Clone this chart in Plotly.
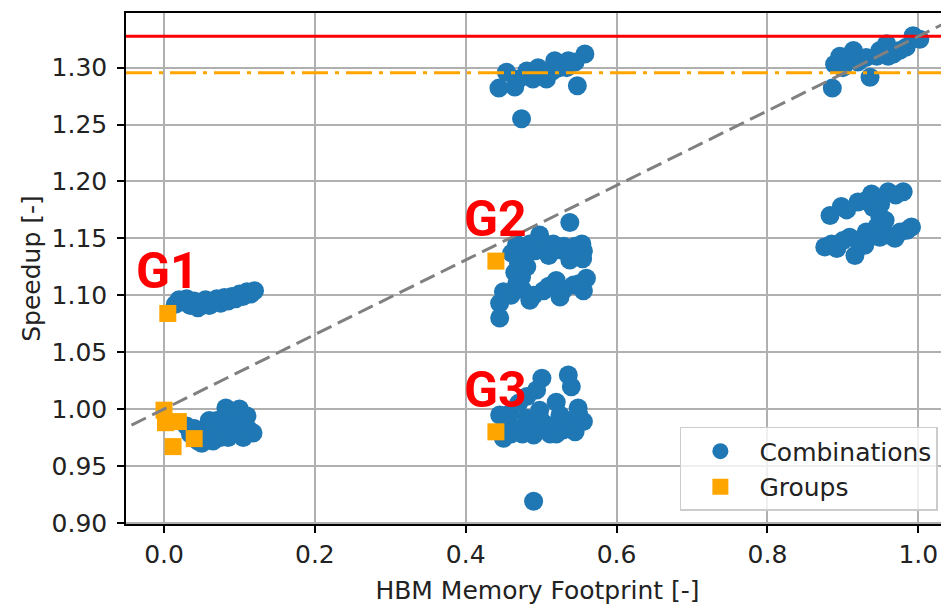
import plotly.graph_objects as go

# ---- data ----
comb_x = [
    # G1 upper band
    0.015, 0.02, 0.025, 0.03, 0.035, 0.04, 0.045, 0.05, 0.055, 0.06, 0.065,
    0.07, 0.075, 0.08, 0.085, 0.09, 0.095, 0.10, 0.105, 0.11, 0.115, 0.12,
    # lower-left cluster
    0.03, 0.035, 0.045, 0.05, 0.055, 0.06, 0.065, 0.07, 0.075, 0.08, 0.082,
    0.085, 0.09, 0.095, 0.10, 0.10, 0.105, 0.11, 0.112, 0.118, 0.07, 0.06,
    0.04, 0.05, 0.065, 0.075, 0.085, 0.095, 0.105, 0.09,
    # top-middle cluster
    0.444, 0.454, 0.465, 0.474, 0.481, 0.489, 0.496, 0.507, 0.518, 0.534,
    0.536, 0.548, 0.558, 0.47, 0.50, 0.525, 0.545, 0.515,
    # top-right cluster
    0.886, 0.889, 0.896, 0.905, 0.914, 0.931, 0.936, 0.949, 0.958, 0.967,
    0.984, 0.993, 1.002, 0.90, 0.92, 0.945, 0.975, 0.96,
    # middle-right upper band
    0.883, 0.898, 0.920, 0.938, 0.940, 0.949, 0.956, 0.960, 0.980,
    0.905, 0.93, 0.95, 0.97,
    # middle-right lower band
    0.876, 0.892, 0.909, 0.916, 0.929, 0.931, 0.949, 0.969, 0.976, 0.991,
    0.885, 0.90, 0.92, 0.94, 0.96, 0.985, 0.945,
    # G2 cluster
    0.538, 0.498, 0.4675, 0.461, 0.481, 0.516, 0.554, 0.556, 0.538, 0.492,
    0.481, 0.474, 0.53, 0.545, 0.47, 0.485, 0.50, 0.51, 0.525, 0.545, 0.555,
    0.465, 0.47,
    0.450, 0.445, 0.445, 0.4675, 0.485, 0.503, 0.520, 0.525, 0.543, 0.560, 0.556,
    0.46, 0.475, 0.49, 0.51, 0.53, 0.55,
    # G3 cluster
    0.490, 0.536, 0.540, 0.501, 0.494, 0.481, 0.520, 0.549, 0.556, 0.445,
    0.450, 0.4675, 0.490, 0.507, 0.529, 0.481, 0.525, 0.543, 0.4587, 0.498,
    0.512, 0.47, 0.46, 0.475, 0.485, 0.50, 0.515, 0.535, 0.55, 0.46, 0.52, 0.545,
]
comb_y = [
    1.092, 1.096, 1.094, 1.097, 1.091, 1.095, 1.089, 1.093, 1.096, 1.091, 1.094,
    1.097, 1.093, 1.098, 1.095, 1.099, 1.097, 1.101, 1.099, 1.103, 1.101, 1.104,
    0.985, 0.978, 0.972, 0.970, 0.975, 0.981, 0.972, 0.978, 0.985, 0.992, 1.001,
    0.975, 0.983, 0.993, 1.000, 0.978, 0.987, 0.994, 0.982, 0.979, 0.990, 0.990,
    0.983, 0.980, 0.985, 0.975, 0.990, 0.985, 0.975, 0.998,
    1.282, 1.296, 1.283, 1.255, 1.297, 1.290, 1.300, 1.290, 1.306, 1.300,
    1.306, 1.284, 1.312, 1.290, 1.295, 1.300, 1.305, 1.297,
    1.282, 1.303, 1.310, 1.306, 1.315, 1.309, 1.2915, 1.315, 1.321, 1.312,
    1.318, 1.328, 1.325, 1.300, 1.305, 1.310, 1.315, 1.310,
    1.170, 1.178, 1.182, 1.189, 1.177, 1.169, 1.166, 1.191, 1.191,
    1.175, 1.183, 1.180, 1.188,
    1.1424, 1.141, 1.151, 1.135, 1.144, 1.1555, 1.151, 1.150, 1.1555, 1.160,
    1.145, 1.148, 1.148, 1.152, 1.153, 1.157, 1.160,
    1.164, 1.153, 1.145, 1.137, 1.125, 1.145, 1.145, 1.139, 1.131, 1.139,
    1.137, 1.116, 1.143, 1.143, 1.140, 1.145, 1.142, 1.135, 1.140, 1.138, 1.132,
    1.120, 1.128,
    1.103, 1.093, 1.080, 1.110, 1.0956, 1.104, 1.113, 1.0985, 1.109, 1.115, 1.104,
    1.100, 1.105, 1.100, 1.108, 1.105, 1.110,
    0.919, 1.030, 1.0196, 1.027, 1.0167, 1.011, 1.006, 1.0009, 0.989, 0.9947,
    0.9743, 0.9816, 0.9772, 0.986, 0.9816, 0.992, 0.9947, 0.9874, 0.9962, 0.999,
    0.978, 1.005, 0.985, 0.978, 0.985, 0.990, 0.985, 0.990, 0.995, 0.978, 0.978,
    0.980,
]

group_x = [0.0, 0.002, 0.019, 0.012, 0.040, 0.005, 0.44, 0.44]
group_y = [0.999, 0.988, 0.989, 0.967, 0.974, 1.084, 1.13, 0.98]
group_labels = ["", "", "", "", "", "G1", "G2", "G3"]

max_speedup = 1.3275        # red solid line
group_max_speedup = 1.2956  # orange dash-dot line
trend_start = 1.0           # dashed trend value at footprint 0

x_ticks = [0.0, 0.2, 0.4, 0.6, 0.8, 1.0]
y_ticks = [0.90, 0.95, 1.00, 1.05, 1.10, 1.15, 1.20, 1.25, 1.30]

x_range = [-0.0504, 1.0407]
y_range = [0.899, 1.348]

FONT = "DejaVu Sans"
FS = 25
fig = go.Figure()

fig.add_trace(go.Scatter(
    x=comb_x, y=comb_y, mode="markers", name="Combinations",
    marker=dict(color="#1f77b4", size=19, symbol="circle", line=dict(width=0)),
))
fig.add_trace(go.Scatter(
    x=group_x, y=group_y, mode="markers", name="Groups",
    marker=dict(color="orange", size=17, symbol="square", line=dict(width=0)),
))

# reference lines
fig.add_trace(go.Scatter(
    x=[x_range[0], x_range[1]], y=[max_speedup, max_speedup], mode="lines",
    line=dict(color="red", width=3), showlegend=False, hoverinfo="skip",
))
fig.add_trace(go.Scatter(
    x=[x_range[0], x_range[1]], y=[group_max_speedup, group_max_speedup], mode="lines",
    line=dict(color="orange", width=3, dash="26px,7px,4px,7px"),
    showlegend=False, hoverinfo="skip",
))
slope = max_speedup - trend_start
tx = [x_range[0] - 0.02, x_range[1] + 0.05]
fig.add_trace(go.Scatter(
    x=tx, y=[trend_start + slope * v for v in tx], mode="lines",
    line=dict(color="gray", width=3, dash="16px,7px"),
    showlegend=False, hoverinfo="skip",
))

for gx, gy, lab in zip(group_x, group_y, group_labels):
    if lab:
        fig.add_annotation(
            x=gx, y=gy, text=f"<b>{lab}</b>", showarrow=False,
            xanchor="center", yanchor="middle", yshift=42,
            font=dict(family="Roboto", size=50, color="red"),
        )

axis_common = dict(
    showgrid=True, gridcolor="#b0b0b0", gridwidth=1.5,
    showline=True, linecolor="black", linewidth=1.5,
    ticks="outside", ticklen=7, tickwidth=1.5, tickcolor="black",
    tickfont=dict(family=FONT, size=FS, color="#222"),
    zeroline=False, automargin=False,
)

fig.update_xaxes(
    range=x_range, tickvals=x_ticks, tickformat=".1f", mirror=True,
    title=dict(text="HBM Memory Footprint [-]", font=dict(family=FONT, size=FS, color="#222"), standoff=14),
    **axis_common,
)
fig.update_yaxes(
    range=y_range, tickvals=y_ticks, tickformat=".2f", ticklabelstandoff=5,
    title=dict(text="Speedup [-]", font=dict(family=FONT, size=FS, color="#222"), standoff=4),
    **axis_common,
)

# the page places the figure 8px from the top-left corner of the window
fig.update_layout(
    width=941, height=597,
    margin=dict(l=118, r=0, t=5, b=81),
    plot_bgcolor="white", paper_bgcolor="white",
    legend=dict(
        x=0.673, y=0.19, xanchor="left", yanchor="top",
        bgcolor="rgba(255,255,255,0.8)", bordercolor="#cccccc", borderwidth=1.5,
        font=dict(family=FONT, size=FS, color="#222"),
        itemsizing="trace", itemwidth=68,
    ),
)

fig.write_html("out.html")
